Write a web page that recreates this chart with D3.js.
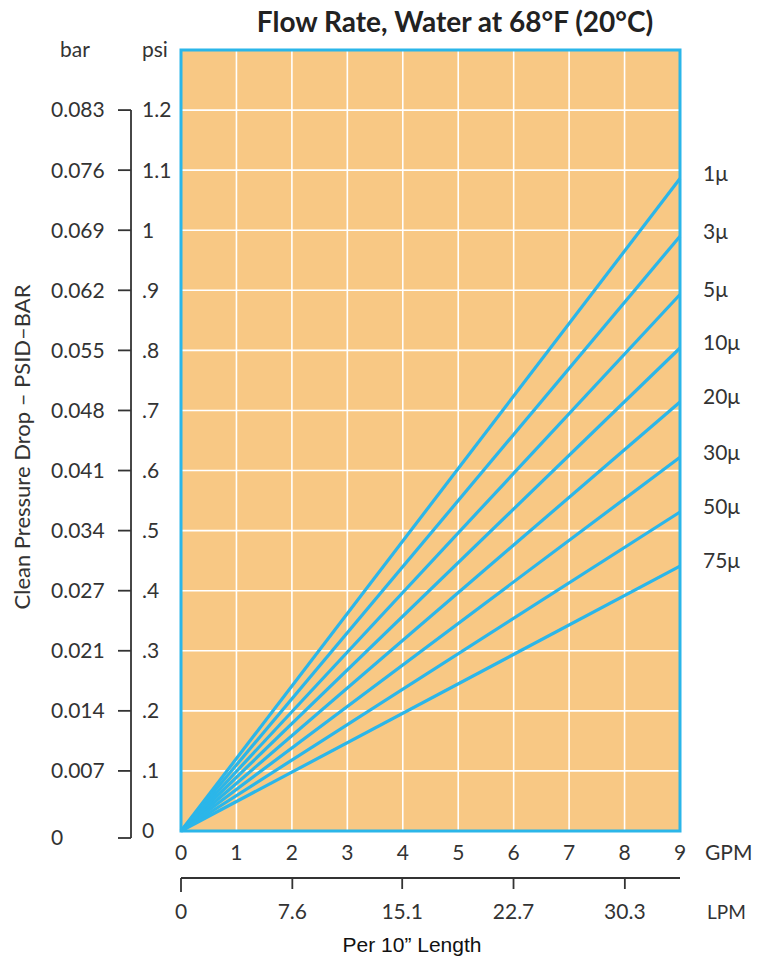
<!DOCTYPE html>
<html>
<head>
<meta charset="utf-8">
<script src="https://cdn.jsdelivr.net/npm/d3@7"></script>
<style>
  body { margin: 0; background: #fff; }
</style>
</head>
<body>
<div id="chart"></div>
<script>
// data
const gpmTicks = [0, 1, 2, 3, 4, 5, 6, 7, 8, 9];
const lpmTicks = [0, 7.6, 15.1, 22.7, 30.3];
const psiTicks = [0, 0.1, 0.2, 0.3, 0.4, 0.5, 0.6, 0.7, 0.8, 0.9, 1.0, 1.1, 1.2];
const psiLabels = ["0", ".1", ".2", ".3", ".4", ".5", ".6", ".7", ".8", ".9", "1", "1.1", "1.2"];
const barLabels = ["0", "0.007", "0.014", "0.021", "0.027", "0.034", "0.041", "0.048", "0.055", "0.062", "0.069", "0.076", "0.083"];
const micronLabels = ["1μ", "3μ", "5μ", "10μ", "20μ", "30μ", "50μ", "75μ"];
const psiAt9gpm = [1.086, 0.990, 0.893, 0.804, 0.714, 0.622, 0.531, 0.441];

const width = 767;
const height = 960;
const plotLeft = 181, plotRight = 680, plotTop = 50, plotBottom = 831;
const fs = 21;

const svg = d3.select("#chart")
  .append("svg")
  .attr("width", width)
  .attr("height", height)
  .attr("font-family", "Lato, 'Open Sans', sans-serif")
  .attr("fill", "#333");

const x = d3.scaleLinear().domain([0, 9]).range([plotLeft, plotRight]);
const xl = d3.scaleLinear().domain([0, 9 * 3.785]).range([plotLeft, plotRight]);
const y = d3.scaleLinear().domain([0, 1.3]).range([plotBottom, plotTop]);

//plot background
svg.append("rect")
  .attr("x", plotLeft).attr("y", plotTop)
  .attr("width", plotRight - plotLeft).attr("height", plotBottom - plotTop)
  .attr("fill", "#f8c884");

//grid
svg.append("g").selectAll("line")
  .data(gpmTicks.slice(1, -1))
  .join("line")
  .attr("x1", d => x(d)).attr("x2", d => x(d))
  .attr("y1", plotTop).attr("y2", plotBottom)
  .attr("stroke", "#fff").attr("stroke-width", 1.6);

svg.append("g").selectAll("line")
  .data(psiTicks.slice(1))
  .join("line")
  .attr("x1", plotLeft).attr("x2", plotRight)
  .attr("y1", d => y(d)).attr("y2", d => y(d))
  .attr("stroke", "#fff").attr("stroke-width", 1.6);

//flow lines
const line = d3.line().x(d => x(d[0])).y(d => y(d[1]));
svg.append("g").selectAll("path")
  .data(psiAt9gpm)
  .join("path")
  .attr("d", d => line([[0, 0], [9, d]]))
  .attr("fill", "none")
  .attr("stroke", "#2bb6e9")
  .attr("stroke-width", 3.2);

//frame
svg.append("rect")
  .attr("x", plotLeft).attr("y", plotTop)
  .attr("width", plotRight - plotLeft).attr("height", plotBottom - plotTop)
  .attr("fill", "none")
  .attr("stroke", "#2bb6e9").attr("stroke-width", 3);

//micron labels
svg.append("g").selectAll("text")
  .data(psiAt9gpm)
  .join("text")
  .attr("x", 703)
  .attr("y", d => y(d) - 5)
  .attr("dy", "0.35em")
  .attr("font-size", fs)
  .text((d, i) => micronLabels[i]);

//title
svg.append("text")
  .attr("x", 455).attr("y", 32)
  .attr("text-anchor", "middle")
  .attr("font-size", 28).attr("font-weight", "bold")
  .attr("fill", "#222")
  .text("Flow Rate, Water at 68°F (20°C)");

//left double axis
const axisX = 131;
const lowY = y(0) + 7;
svg.append("line")
  .attr("x1", axisX).attr("x2", axisX)
  .attr("y1", y(1.2)).attr("y2", lowY)
  .attr("stroke", "#333").attr("stroke-width", 1.8);

svg.append("g").selectAll("line")
  .data(psiTicks)
  .join("line")
  .attr("x1", 118).attr("x2", axisX)
  .attr("y1", d => d === 0 ? lowY : y(d))
  .attr("y2", d => d === 0 ? lowY : y(d))
  .attr("stroke", "#333").attr("stroke-width", 1.8);

svg.append("g").selectAll("text")
  .data(psiTicks)
  .join("text")
  .attr("x", 142)
  .attr("y", d => y(d))
  .attr("dy", "0.35em")
  .attr("font-size", fs)
  .text((d, i) => psiLabels[i]);

svg.append("g").selectAll("text")
  .data(psiTicks)
  .join("text")
  .attr("x", 51)
  .attr("y", d => d === 0 ? lowY : y(d))
  .attr("dy", "0.35em")
  .attr("font-size", fs)
  .text((d, i) => barLabels[i]);

svg.append("text").attr("x", 60).attr("y", 57).attr("font-size", fs).text("bar");
svg.append("text").attr("x", 142).attr("y", 57).attr("font-size", fs).text("psi");

svg.append("text")
  .attr("transform", "translate(30,447) rotate(-90)")
  .attr("text-anchor", "middle")
  .attr("font-size", 22)
  .text("Clean Pressure Drop – PSID–BAR");

//GPM labels
svg.append("g").selectAll("text")
  .data(gpmTicks)
  .join("text")
  .attr("x", d => x(d))
  .attr("y", 853)
  .attr("dy", "0.35em")
  .attr("text-anchor", "middle")
  .attr("font-size", fs)
  .text(d => d);
svg.append("text").attr("x", 705).attr("y", 853).attr("dy", "0.35em").attr("font-size", fs).text("GPM");

//LPM axis
const lpmY = 878;
svg.append("line")
  .attr("x1", plotLeft).attr("x2", plotRight)
  .attr("y1", lpmY).attr("y2", lpmY)
  .attr("stroke", "#333").attr("stroke-width", 1.8);
svg.append("g").selectAll("line")
  .data(lpmTicks)
  .join("line")
  .attr("x1", d => xl(d)).attr("x2", d => xl(d))
  .attr("y1", lpmY).attr("y2", d => d === 0 ? lpmY + 14 : lpmY + 11)
  .attr("stroke", "#333").attr("stroke-width", 1.8);
svg.append("g").selectAll("text")
  .data(lpmTicks)
  .join("text")
  .attr("x", d => xl(d))
  .attr("y", 912)
  .attr("dy", "0.35em")
  .attr("text-anchor", "middle")
  .attr("font-size", fs)
  .text(d => d);
svg.append("text").attr("x", 707).attr("y", 912).attr("dy", "0.35em").attr("font-size", 19).text("LPM");

svg.append("text")
  .attr("x", 412).attr("y", 945)
  .attr("dy", "0.35em")
  .attr("text-anchor", "middle")
  .attr("font-size", 21)
  .attr("font-family", "'Liberation Sans', Arial, sans-serif")
  .attr("fill", "#111")
  .text("Per 10” Length");
</script>
</body>
</html>
